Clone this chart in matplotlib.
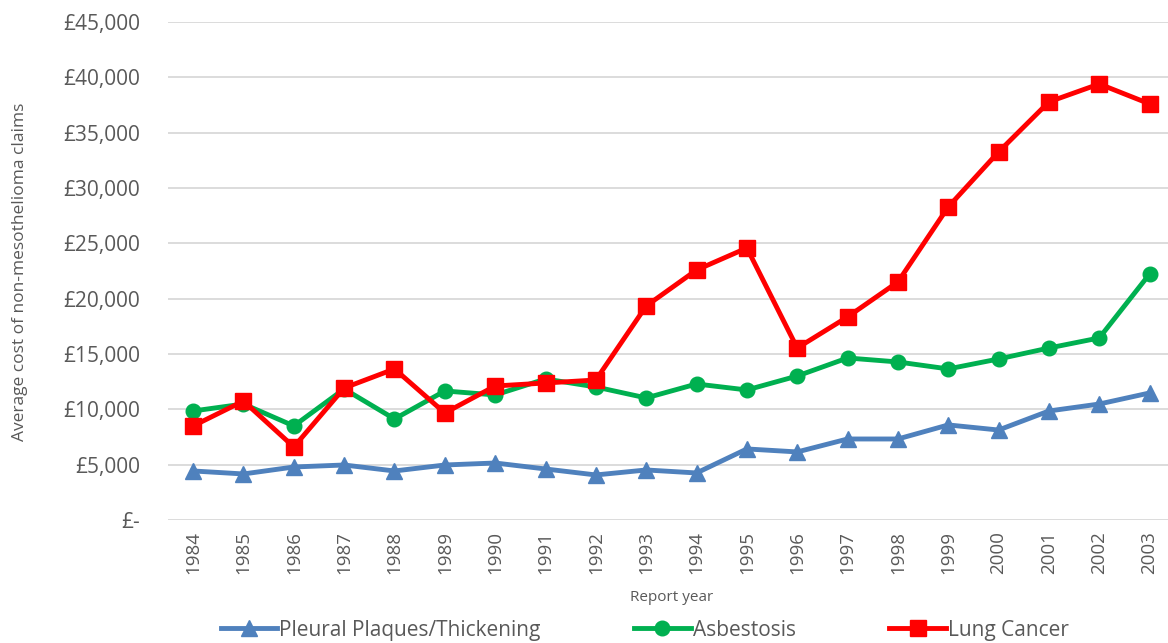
import matplotlib.pyplot as plt
from matplotlib.ticker import FuncFormatter

plt.rcParams['font.family'] = ['Open Sans', 'DejaVu Sans']

years = [str(y) for y in range(1984, 2004)]
pleural = [4430, 4160, 4790, 4970, 4430, 4970, 5150, 4610, 4070, 4520,
           4250, 6420, 6150, 7320, 7320, 8590, 8130, 9850, 10480, 11480]
asbestosis = [9850, 10480, 8500, 11840, 9130, 11660, 11300, 12740, 12020, 11030,
              12290, 11750, 13010, 14640, 14280, 13650, 14550, 15540, 16450, 22230]
lung_cancer = [8500, 10750, 6600, 11930, 13650, 9670, 12110, 12380, 12650, 19340,
               22590, 24580, 15540, 18350, 21510, 28290, 33260, 37780, 39400, 37600]

fig = plt.figure(figsize=(11.68, 6.43), dpi=100)
ax = fig.add_axes([0.1438, 0.1913, 0.862, 0.7745])

x = range(len(years))
ax.plot(x, pleural, color='#4F81BD', lw=3.5, marker='^', ms=11, label='Pleural Plaques/Thickening')
ax.plot(x, asbestosis, color='#00B050', lw=3.5, marker='o', ms=10.5, label='Asbestosis')
ax.plot(x, lung_cancer, color='#FF0000', lw=3.5, marker='s', ms=11, label='Lung Cancer')

ax.set_xlim(-0.5, len(years) - 0.5)
ax.set_ylim(0, 45000)
ax.set_yticks(range(0, 45001, 5000))
ax.yaxis.set_major_formatter(FuncFormatter(lambda v, p: '£-' if v == 0 else f'£{v:,.0f}'))
ax.set_xticks(list(x))
ax.set_xticklabels(years, rotation=90)
ax.tick_params(axis='x', length=0, labelsize=13.5, colors='#595959', pad=8)
ax.tick_params(axis='y', length=0, labelsize=15, colors='#595959', pad=20)
ax.grid(axis='y', color='#D9D9D9', lw=1.3)
ax.set_axisbelow(True)
for s in ax.spines.values():
    s.set_visible(False)

fig.text(0.017, 0.578, 'Average cost of non-mesothelioma claims', rotation=90,
         ha='center', va='center', fontsize=12.5, color='#595959')
fig.text(0.575, 0.07, 'Report year', ha='center', va='center', fontsize=11, color='#595959')

fig.legend(loc='center', bbox_to_anchor=(0.552, 0.02), ncol=3, frameon=False,
           fontsize=15, handlelength=2.7, handletextpad=0.1, columnspacing=4.5,
           labelcolor='#595959')

fig.savefig('out.png', dpi=100)
